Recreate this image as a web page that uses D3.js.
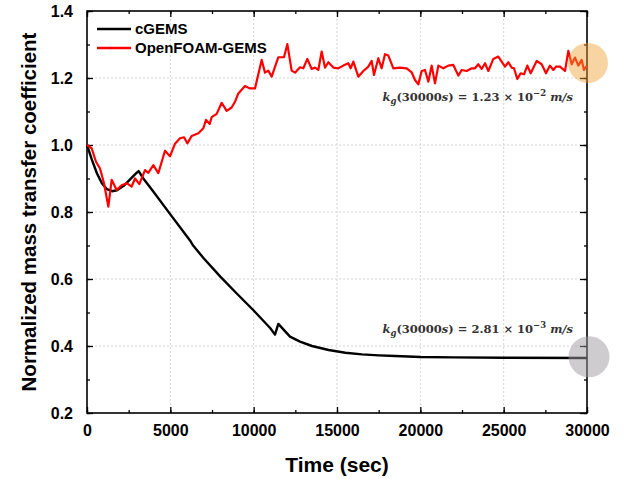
<!DOCTYPE html>
<html>
<head>
<meta charset="utf-8">
<script src="https://cdn.jsdelivr.net/npm/d3@7"></script>
<style>
  body { margin: 0; background: #fff; }
  svg { display: block; }
</style>
</head>
<body>
<svg id="chart" width="635" height="479"></svg>
<script>
// cGEMS series (time in sec, normalized coefficient)
const cgemsTime = [0, 300, 600, 900, 1200, 1500, 1800, 2200, 2600, 3000, 3100, 3380, 4000, 5000, 6000, 6180, 6380, 7000, 8000, 9000, 10000, 11000, 11280, 11480, 12180, 12780, 13500, 14500, 15500, 16500, 17500, 18500, 20000, 22000, 25000, 30000];
const cgemsVal = [1.0, 0.955, 0.915, 0.885, 0.868, 0.862, 0.865, 0.878, 0.898, 0.918, 0.922, 0.90, 0.86, 0.793, 0.727, 0.715, 0.699, 0.662, 0.607, 0.556, 0.506, 0.453, 0.434, 0.466, 0.428, 0.413, 0.40, 0.388, 0.38, 0.375, 0.372, 0.37, 0.367, 0.366, 0.365, 0.364];

// OpenFOAM-GEMS series
const ofTime = [0, 280, 540, 780, 1020, 1280, 1480, 1780, 2080, 2380, 2680, 2880, 3140, 3480, 3680, 3980, 4280, 4680, 4980, 5280, 5580, 5820, 6020, 6280, 6680, 6980, 7140, 7360, 7480, 7780, 8080, 8380, 8680, 8880, 9080, 9480, 9780, 10080, 10480, 10680, 10880, 11080, 11480, 11820, 12020, 12280, 12480, 12780, 12980, 13220, 13480, 13680, 13880, 14080, 14280, 14480, 14780, 15080, 15380, 15680, 15820, 15980, 16280, 16580, 16880, 17080, 17220, 17480, 17680, 17880, 18080, 18380, 18780, 19180, 19480, 19680, 19880, 20080, 20280, 20480, 20680, 20880, 21080, 21380, 21680, 21980, 22280, 22480, 22780, 23080, 23280, 23480, 23680, 23880, 24080, 24380, 24680, 24880, 25080, 25280, 25480, 25620, 25820, 26020, 26220, 26420, 26620, 26980, 27280, 27540, 27780, 27980, 28140, 28380, 28680, 28880, 29080, 29280, 29480, 29680, 29820, 30000];
const ofVal = [1.0, 0.99, 0.95, 0.93, 0.886, 0.816, 0.896, 0.866, 0.88, 0.886, 0.876, 0.90, 0.883, 0.925, 0.917, 0.94, 0.916, 0.983, 0.966, 1.004, 1.02, 1.023, 1.005, 1.027, 1.035, 1.05, 1.075, 1.063, 1.083, 1.093, 1.126, 1.102, 1.112, 1.129, 1.154, 1.176, 1.169, 1.169, 1.254, 1.216, 1.222, 1.204, 1.262, 1.262, 1.301, 1.222, 1.216, 1.232, 1.229, 1.257, 1.227, 1.231, 1.224, 1.279, 1.231, 1.247, 1.231, 1.229, 1.237, 1.244, 1.229, 1.249, 1.204, 1.221, 1.234, 1.251, 1.209, 1.259, 1.229, 1.271, 1.267, 1.229, 1.231, 1.229, 1.217, 1.194, 1.181, 1.221, 1.224, 1.189, 1.237, 1.184, 1.237, 1.229, 1.237, 1.239, 1.207, 1.224, 1.221, 1.229, 1.229, 1.241, 1.227, 1.244, 1.221, 1.257, 1.264, 1.249, 1.234, 1.247, 1.231, 1.229, 1.197, 1.214, 1.211, 1.237, 1.214, 1.251, 1.241, 1.214, 1.237, 1.224, 1.234, 1.234, 1.221, 1.281, 1.241, 1.261, 1.237, 1.254, 1.224, 1.237];

const xTicks = [0, 5000, 10000, 15000, 20000, 25000, 30000];
const yTicks = [0.2, 0.4, 0.6, 0.8, 1.0, 1.2, 1.4];
const seriesNames = ["cGEMS", "OpenFOAM-GEMS"];
const seriesColors = ["#000000", "#ff0000"];

const svg = d3.select("#chart");
const mLeft = 87, mRight = 587, mTop = 11, mBottom = 413;

const x = d3.scaleLinear().domain([0, 30000]).range([mLeft, mRight]);
const y = d3.scaleLinear().domain([0.2, 1.4]).range([mBottom, mTop]);

const font = "'Liberation Sans', Arial, sans-serif";

// dotted grid
const grid = svg.append("g").attr("stroke", "#c8c8c8").attr("stroke-width", 0.8).attr("stroke-dasharray", "2,2");
grid.selectAll("line.vx")
  .data(xTicks.slice(1, -1))
  .join("line")
  .attr("x1", d => x(d)).attr("x2", d => x(d))
  .attr("y1", mTop).attr("y2", mBottom);
grid.selectAll("line.hy")
  .data(yTicks.slice(1, -1))
  .join("line")
  .attr("x1", mLeft).attr("x2", mRight)
  .attr("y1", d => y(d)).attr("y2", d => y(d));

// axes with inward ticks
const minorX = d3.range(0, 30001, 2500);
const minorY = d3.range(2, 15).map(d => d / 10);

function styleAxis(g) {
  g.select(".domain").remove();
  g.selectAll(".tick line").attr("stroke", "#000").attr("stroke-width", 1.3);
  g.selectAll("text").attr("font-family", font).attr("font-weight", "bold").attr("font-size", 16).attr("fill", "#000");
}

svg.append("g").attr("transform", `translate(0,${mBottom})`)
  .call(d3.axisBottom(x).tickValues(minorX).tickSize(-3).tickFormat(""))
  .call(styleAxis);
svg.append("g").attr("transform", `translate(0,${mBottom})`)
  .call(d3.axisBottom(x).tickValues(xTicks).tickSize(-6).tickPadding(12).tickFormat(d3.format("d")))
  .call(styleAxis);
svg.append("g").attr("transform", `translate(0,${mTop})`)
  .call(d3.axisTop(x).tickValues(minorX).tickSize(-3).tickFormat(""))
  .call(styleAxis);
svg.append("g").attr("transform", `translate(0,${mTop})`)
  .call(d3.axisTop(x).tickValues(xTicks).tickSize(-6).tickFormat(""))
  .call(styleAxis);

svg.append("g").attr("transform", `translate(${mLeft},0)`)
  .call(d3.axisLeft(y).tickValues(minorY).tickSize(-3).tickFormat(""))
  .call(styleAxis);
svg.append("g").attr("transform", `translate(${mLeft},0)`)
  .call(d3.axisLeft(y).tickValues(yTicks).tickSize(-6).tickPadding(14).tickFormat(d3.format(".1f")))
  .call(styleAxis);
svg.append("g").attr("transform", `translate(${mRight},0)`)
  .call(d3.axisRight(y).tickValues(minorY).tickSize(-3).tickFormat(""))
  .call(styleAxis);
svg.append("g").attr("transform", `translate(${mRight},0)`)
  .call(d3.axisRight(y).tickValues(yTicks).tickSize(-7).tickFormat(""))
  .call(styleAxis);

// frame
svg.append("rect")
  .attr("x", mLeft).attr("y", mTop)
  .attr("width", mRight - mLeft).attr("height", mBottom - mTop)
  .attr("fill", "none").attr("stroke", "#000").attr("stroke-width", 1.6);

// lines
const line = d3.line().x(d => x(d[0])).y(d => y(d[1]));
const cgems = cgemsTime.map((t, i) => [t, cgemsVal[i]]);
const openfoam = ofTime.map((t, i) => [t, ofVal[i]]);

svg.append("path").datum(cgems)
  .attr("d", line).attr("fill", "none")
  .attr("stroke", seriesColors[0]).attr("stroke-width", 2.4).attr("stroke-linejoin", "round");
svg.append("path").datum(openfoam)
  .attr("d", line).attr("fill", "none")
  .attr("stroke", seriesColors[1]).attr("stroke-width", 2.2).attr("stroke-linejoin", "round");

// highlight circles at the end point
svg.append("circle").attr("cx", x(30000) + 1).attr("cy", y(1.245)).attr("r", 20)
  .attr("fill", "#f0a030").attr("opacity", 0.45);
svg.append("circle").attr("cx", x(30000) + 2).attr("cy", y(0.365) - 1).attr("r", 20.5)
  .attr("fill", "#9e9aa0").attr("opacity", 0.5);

// legend
const legend = svg.append("g").attr("font-family", font).attr("font-weight", "bold").attr("font-size", 15);
seriesNames.forEach((name, i) => {
  const ly = 29 + i * 19;
  legend.append("line").attr("x1", 97).attr("x2", 131).attr("y1", ly).attr("y2", ly)
    .attr("stroke", seriesColors[i]).attr("stroke-width", 2.4);
  legend.append("text").attr("x", 135).attr("y", ly + 5).text(name);
});

// annotations
function annot(yPos, mant, expo) {
  const t = svg.append("text")
    .attr("x", 573).attr("y", yPos).attr("text-anchor", "end")
    .attr("font-family", "'DejaVu Serif', 'Liberation Serif', serif")
    .attr("font-weight", "bold").attr("font-size", 11.5).attr("fill", "#333");
  t.append("tspan").attr("font-style", "italic").text("k");
  t.append("tspan").attr("font-style", "italic").attr("font-size", 8.5).attr("dy", 3).text("g");
  t.append("tspan").attr("dy", -3).text("(30000");
  t.append("tspan").attr("font-style", "italic").text("s");
  t.append("tspan").text(") = " + mant + " × 10");
  t.append("tspan").attr("font-size", 8.5).attr("dy", -5).text(expo);
  t.append("tspan").attr("dy", 5).attr("font-style", "italic").text(" m/s");
}
annot(101, "1.23", "−2");
annot(333, "2.81", "−3");

// axis titles
svg.append("text")
  .attr("x", (mLeft + mRight) / 2).attr("y", 472).attr("text-anchor", "middle")
  .attr("font-family", font).attr("font-weight", "bold").attr("font-size", 21)
  .text("Time (sec)");
svg.append("text")
  .attr("transform", `translate(36,${(mTop + mBottom) / 2}) rotate(-90)`)
  .attr("text-anchor", "middle")
  .attr("font-family", font).attr("font-weight", "bold").attr("font-size", 20.5)
  .text("Normalized mass transfer coefficient");
</script>
</body>
</html>
